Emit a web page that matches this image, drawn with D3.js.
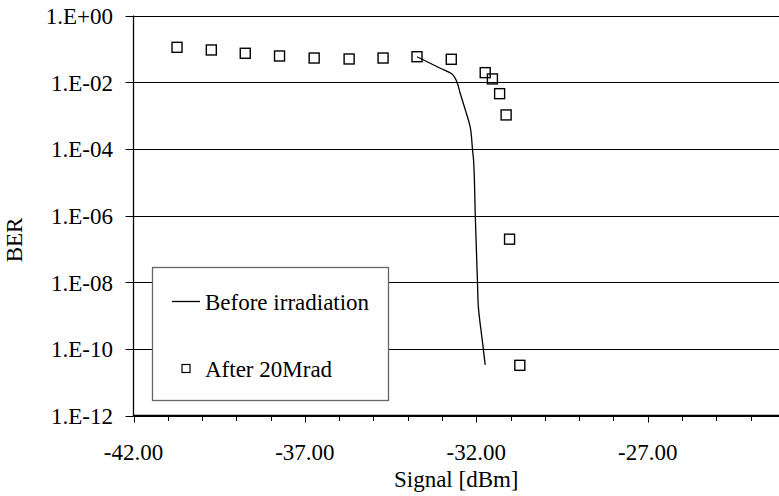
<!DOCTYPE html>
<html>
<head>
<meta charset="utf-8">
<script src="https://cdn.jsdelivr.net/npm/d3@7"></script>
<style>
  html, body { margin: 0; padding: 0; background: #fff; }
  svg { display: block; }
  text { font-family: "Liberation Serif", "Times New Roman", serif; fill: #000; }
</style>
</head>
<body>
<svg id="chart" width="779" height="496"></svg>
<script>
// ---- data ----
const beforeSignal = [-33.73, -33.05, -32.71, -32.57, -32.47, -32.32, -32.18, -32.11, -32.08, -32.03, -31.965, -31.94, -31.84, -31.74];
const beforeBER    = [0.058, 0.0261, 0.0176, 0.01035, 0.00465, 0.00147, 4.6e-4, 9.3e-5, 4.6e-5, 1.04e-6, 9.3e-9, 1.85e-9, 2.34e-10, 3.3e-11];

const afterSignal = [-40.73, -39.73, -38.74, -37.74, -36.73, -35.71, -34.72, -33.73, -32.73, -31.74, -31.53, -31.32, -31.13, -31.03, -30.73];
const afterBER    = [0.111, 0.0924, 0.0736, 0.061, 0.053, 0.0496, 0.053, 0.058, 0.0486, 0.0193, 0.0125, 0.00452, 0.00104, 1.95e-7, 3.2e-11];

const xMajorTicks = [-42, -37, -32, -27];
const xTickLabels = ["-42.00", "-37.00", "-32.00", "-27.00"];
const xMinorTicks = d3.range(-42, -23, 1);
const yTicks = [1, 1e-2, 1e-4, 1e-6, 1e-8, 1e-10, 1e-12];
const yTickLabels = ["1.E+00", "1.E-02", "1.E-04", "1.E-06", "1.E-08", "1.E-10", "1.E-12"];
const legendLabels = ["Before irradiation", "After 20Mrad"];

(function () {
// ---- layout ----
const svg = d3.select("#chart");
const pL = 133.5, pR = 779, pT = 15.5, pB = 415.5;
const x = d3.scaleLinear().domain([-42, -42 + (pR - pL) / 34.28]).range([pL, pR]);
const y = d3.scaleLog().domain([1, 1e-12]).range([pT, pB]);
const fs = 23;

// gridlines
svg.append("g").selectAll("line").data(yTicks).join("line")
  .attr("x1", pL).attr("x2", pR)
  .attr("y1", d => Math.round(y(d)) + 0.5).attr("y2", d => Math.round(y(d)) + 0.5)
  .attr("stroke", "#000").attr("stroke-width", 1);

// y axis line + ticks
svg.append("line").attr("x1", pL).attr("x2", pL).attr("y1", pT).attr("y2", pB + 0.5)
  .attr("stroke", "#000").attr("stroke-width", 1.3);
svg.append("g").selectAll("line").data(yTicks).join("line")
  .attr("x1", pL - 8).attr("x2", pL)
  .attr("y1", d => Math.round(y(d)) + 0.5).attr("y2", d => Math.round(y(d)) + 0.5)
  .attr("stroke", "#000");
svg.append("g").selectAll("text").data(yTicks).join("text")
  .attr("x", 113).attr("y", d => y(d) + 8.5)
  .attr("text-anchor", "end").attr("font-size", fs)
  .text((d, i) => yTickLabels[i]);

// x axis line + ticks
svg.append("line").attr("x1", pL).attr("x2", pR).attr("y1", pB).attr("y2", pB)
  .attr("stroke", "#000").attr("stroke-width", 1.3);
svg.append("g").selectAll("line").data(xMinorTicks).join("line")
  .attr("x1", d => Math.round(x(d)) + 0.5).attr("x2", d => Math.round(x(d)) + 0.5)
  .attr("y1", pB).attr("y2", d => xMajorTicks.includes(d) ? pB + 7 : pB + 5.5)
  .attr("stroke", "#000");
svg.append("g").selectAll("text").data(xMajorTicks).join("text")
  .attr("x", d => x(d)).attr("y", 459.5)
  .attr("text-anchor", "middle").attr("font-size", fs)
  .text((d, i) => xTickLabels[i]);

// axis titles
svg.append("text").attr("x", (pL + pR) / 2).attr("y", 487)
  .attr("text-anchor", "middle").attr("font-size", fs).text("Signal [dBm]");
svg.append("text").attr("transform", "translate(22,240) rotate(-90)")
  .attr("text-anchor", "middle").attr("font-size", fs).text("BER");

// before line
const beforeData = beforeSignal.map((s, i) => [s, beforeBER[i]]);
svg.append("path").datum(beforeData)
  .attr("d", d3.line().x(d => x(d[0])).y(d => y(d[1])).curve(d3.curveMonotoneY))
  .attr("fill", "none").attr("stroke", "#000").attr("stroke-width", 1.3);

// after squares
const sq = 10;
svg.append("g").selectAll("rect").data(afterSignal.map((s, i) => [s, afterBER[i]])).join("rect")
  .attr("x", d => x(d[0]) - sq / 2).attr("y", d => y(d[1]) - sq / 2)
  .attr("width", sq).attr("height", sq)
  .attr("fill", "none").attr("stroke", "#000").attr("stroke-width", 1.4);

// legend
const lg = svg.append("g");
lg.append("rect").attr("x", 152.5).attr("y", 267.5).attr("width", 236).attr("height", 133)
  .attr("fill", "#fff").attr("stroke", "#666").attr("stroke-width", 1.3);
lg.append("line").attr("x1", 172).attr("x2", 200).attr("y1", 301.5).attr("y2", 301.5)
  .attr("stroke", "#000").attr("stroke-width", 1.3);
lg.append("text").attr("x", 205).attr("y", 309.5).attr("font-size", fs).text(legendLabels[0]);
lg.append("rect").attr("x", 182).attr("y", 364.5).attr("width", 8).attr("height", 8)
  .attr("fill", "none").attr("stroke", "#000").attr("stroke-width", 1.2);
lg.append("text").attr("x", 205).attr("y", 377).attr("font-size", fs).text(legendLabels[1]);
})();
</script>
</body>
</html>
